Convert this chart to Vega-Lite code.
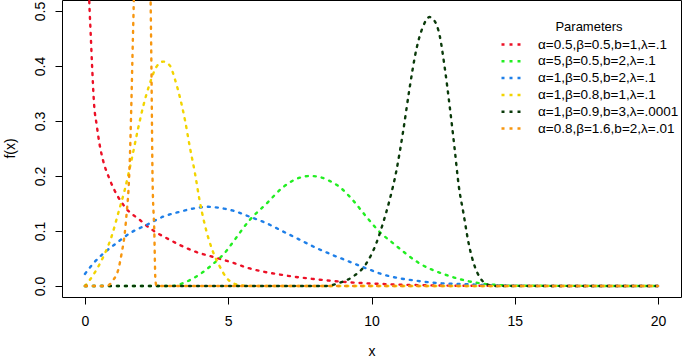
{
  "$schema": "https://vega.github.io/schema/vega-lite/v6.json",
  "width": 619,
  "height": 297,
  "autosize": {"type": "none"},
  "padding": {"left": 62, "top": 0, "right": 2, "bottom": 63},
  "background": "white",
  "config": {
    "view": {"stroke": "black", "strokeWidth": 1},
    "font": "Liberation Sans"
  },
  "data": {
    "values": [
      {"s": "α=0.5,β=0.5,b=1,λ=.1", "x": 0.1, "y": 0.62},
      {"s": "α=0.5,β=0.5,b=1,λ=.1", "x": 0.15, "y": 0.52},
      {"s": "α=0.5,β=0.5,b=1,λ=.1", "x": 0.2, "y": 0.46},
      {"s": "α=0.5,β=0.5,b=1,λ=.1", "x": 0.25, "y": 0.40},
      {"s": "α=0.5,β=0.5,b=1,λ=.1", "x": 0.32, "y": 0.33},
      {"s": "α=0.5,β=0.5,b=1,λ=.1", "x": 0.41, "y": 0.293},
      {"s": "α=0.5,β=0.5,b=1,λ=.1", "x": 0.52, "y": 0.255},
      {"s": "α=0.5,β=0.5,b=1,λ=.1", "x": 0.63, "y": 0.229},
      {"s": "α=0.5,β=0.5,b=1,λ=.1", "x": 0.87, "y": 0.193},
      {"s": "α=0.5,β=0.5,b=1,λ=.1", "x": 1.39, "y": 0.144},
      {"s": "α=0.5,β=0.5,b=1,λ=.1", "x": 1.92, "y": 0.12},
      {"s": "α=0.5,β=0.5,b=1,λ=.1", "x": 2.27, "y": 0.105},
      {"s": "α=0.5,β=0.5,b=1,λ=.1", "x": 2.96, "y": 0.084},
      {"s": "α=0.5,β=0.5,b=1,λ=.1", "x": 3.77, "y": 0.064},
      {"s": "α=0.5,β=0.5,b=1,λ=.1", "x": 4.6, "y": 0.051},
      {"s": "α=0.5,β=0.5,b=1,λ=.1", "x": 5.06, "y": 0.044},
      {"s": "α=0.5,β=0.5,b=1,λ=.1", "x": 5.75, "y": 0.032},
      {"s": "α=0.5,β=0.5,b=1,λ=.1", "x": 6.9, "y": 0.02},
      {"s": "α=0.5,β=0.5,b=1,λ=.1", "x": 8.1, "y": 0.012},
      {"s": "α=0.5,β=0.5,b=1,λ=.1", "x": 9.24, "y": 0.0067},
      {"s": "α=0.5,β=0.5,b=1,λ=.1", "x": 10.4, "y": 0.0036},
      {"s": "α=0.5,β=0.5,b=1,λ=.1", "x": 12.0, "y": 0.0012},
      {"s": "α=0.5,β=0.5,b=1,λ=.1", "x": 14.0, "y": 0.0003},
      {"s": "α=0.5,β=0.5,b=1,λ=.1", "x": 20.0, "y": 0},

      {"s": "α=5,β=0.5,b=2,λ=.1", "x": 0, "y": 0},
      {"s": "α=5,β=0.5,b=2,λ=.1", "x": 3.0, "y": 0},
      {"s": "α=5,β=0.5,b=2,λ=.1", "x": 3.55, "y": 0.008},
      {"s": "α=5,β=0.5,b=2,λ=.1", "x": 4.0, "y": 0.021},
      {"s": "α=5,β=0.5,b=2,λ=.1", "x": 4.47, "y": 0.04},
      {"s": "α=5,β=0.5,b=2,λ=.1", "x": 4.94, "y": 0.064},
      {"s": "α=5,β=0.5,b=2,λ=.1", "x": 5.17, "y": 0.08},
      {"s": "α=5,β=0.5,b=2,λ=.1", "x": 5.75, "y": 0.12},
      {"s": "α=5,β=0.5,b=2,λ=.1", "x": 6.34, "y": 0.15},
      {"s": "α=5,β=0.5,b=2,λ=.1", "x": 6.92, "y": 0.18},
      {"s": "α=5,β=0.5,b=2,λ=.1", "x": 7.5, "y": 0.197},
      {"s": "α=5,β=0.5,b=2,λ=.1", "x": 7.85, "y": 0.2},
      {"s": "α=5,β=0.5,b=2,λ=.1", "x": 8.2, "y": 0.198},
      {"s": "α=5,β=0.5,b=2,λ=.1", "x": 8.5, "y": 0.192},
      {"s": "α=5,β=0.5,b=2,λ=.1", "x": 8.89, "y": 0.18},
      {"s": "α=5,β=0.5,b=2,λ=.1", "x": 9.35, "y": 0.156},
      {"s": "α=5,β=0.5,b=2,λ=.1", "x": 9.82, "y": 0.126},
      {"s": "α=5,β=0.5,b=2,λ=.1", "x": 10.29, "y": 0.098},
      {"s": "α=5,β=0.5,b=2,λ=.1", "x": 10.75, "y": 0.078},
      {"s": "α=5,β=0.5,b=2,λ=.1", "x": 11.22, "y": 0.058},
      {"s": "α=5,β=0.5,b=2,λ=.1", "x": 11.68, "y": 0.041},
      {"s": "α=5,β=0.5,b=2,λ=.1", "x": 12.14, "y": 0.029},
      {"s": "α=5,β=0.5,b=2,λ=.1", "x": 12.61, "y": 0.02},
      {"s": "α=5,β=0.5,b=2,λ=.1", "x": 13.19, "y": 0.011},
      {"s": "α=5,β=0.5,b=2,λ=.1", "x": 13.77, "y": 0.005},
      {"s": "α=5,β=0.5,b=2,λ=.1", "x": 14.35, "y": 0.002},
      {"s": "α=5,β=0.5,b=2,λ=.1", "x": 15.0, "y": 0.0005},
      {"s": "α=5,β=0.5,b=2,λ=.1", "x": 20.0, "y": 0},

      {"s": "α=1,β=0.5,b=2,λ=.1", "x": 0, "y": 0.022},
      {"s": "α=1,β=0.5,b=2,λ=.1", "x": 0.29, "y": 0.041},
      {"s": "α=1,β=0.5,b=2,λ=.1", "x": 0.64, "y": 0.059},
      {"s": "α=1,β=0.5,b=2,λ=.1", "x": 1.1, "y": 0.078},
      {"s": "α=1,β=0.5,b=2,λ=.1", "x": 1.57, "y": 0.096},
      {"s": "α=1,β=0.5,b=2,λ=.1", "x": 2.15, "y": 0.111},
      {"s": "α=1,β=0.5,b=2,λ=.1", "x": 2.73, "y": 0.126},
      {"s": "α=1,β=0.5,b=2,λ=.1", "x": 3.31, "y": 0.135},
      {"s": "α=1,β=0.5,b=2,λ=.1", "x": 3.9, "y": 0.142},
      {"s": "α=1,β=0.5,b=2,λ=.1", "x": 4.3, "y": 0.144},
      {"s": "α=1,β=0.5,b=2,λ=.1", "x": 4.7, "y": 0.142},
      {"s": "α=1,β=0.5,b=2,λ=.1", "x": 5.17, "y": 0.137},
      {"s": "α=1,β=0.5,b=2,λ=.1", "x": 5.75, "y": 0.126},
      {"s": "α=1,β=0.5,b=2,λ=.1", "x": 6.34, "y": 0.114},
      {"s": "α=1,β=0.5,b=2,λ=.1", "x": 6.92, "y": 0.099},
      {"s": "α=1,β=0.5,b=2,λ=.1", "x": 7.5, "y": 0.084},
      {"s": "α=1,β=0.5,b=2,λ=.1", "x": 8.08, "y": 0.069},
      {"s": "α=1,β=0.5,b=2,λ=.1", "x": 8.66, "y": 0.056},
      {"s": "α=1,β=0.5,b=2,λ=.1", "x": 9.24, "y": 0.044},
      {"s": "α=1,β=0.5,b=2,λ=.1", "x": 9.82, "y": 0.032},
      {"s": "α=1,β=0.5,b=2,λ=.1", "x": 10.4, "y": 0.021},
      {"s": "α=1,β=0.5,b=2,λ=.1", "x": 10.98, "y": 0.014},
      {"s": "α=1,β=0.5,b=2,λ=.1", "x": 11.57, "y": 0.0095},
      {"s": "α=1,β=0.5,b=2,λ=.1", "x": 12.14, "y": 0.006},
      {"s": "α=1,β=0.5,b=2,λ=.1", "x": 13.2, "y": 0.0034},
      {"s": "α=1,β=0.5,b=2,λ=.1", "x": 14.5, "y": 0.001},
      {"s": "α=1,β=0.5,b=2,λ=.1", "x": 16.0, "y": 0.0002},
      {"s": "α=1,β=0.5,b=2,λ=.1", "x": 20.0, "y": 0},

      {"s": "α=1,β=0.8,b=1,λ=.1", "x": 0, "y": 0},
      {"s": "α=1,β=0.8,b=1,λ=.1", "x": 0.29, "y": 0.02},
      {"s": "α=1,β=0.8,b=1,λ=.1", "x": 0.64, "y": 0.053},
      {"s": "α=1,β=0.8,b=1,λ=.1", "x": 0.93, "y": 0.09},
      {"s": "α=1,β=0.8,b=1,λ=.1", "x": 1.16, "y": 0.132},
      {"s": "α=1,β=0.8,b=1,λ=.1", "x": 1.39, "y": 0.175},
      {"s": "α=1,β=0.8,b=1,λ=.1", "x": 1.65, "y": 0.235},
      {"s": "α=1,β=0.8,b=1,λ=.1", "x": 1.85, "y": 0.285},
      {"s": "α=1,β=0.8,b=1,λ=.1", "x": 2.05, "y": 0.33},
      {"s": "α=1,β=0.8,b=1,λ=.1", "x": 2.27, "y": 0.369},
      {"s": "α=1,β=0.8,b=1,λ=.1", "x": 2.5, "y": 0.399},
      {"s": "α=1,β=0.8,b=1,λ=.1", "x": 2.73, "y": 0.408},
      {"s": "α=1,β=0.8,b=1,λ=.1", "x": 2.96, "y": 0.401},
      {"s": "α=1,β=0.8,b=1,λ=.1", "x": 3.14, "y": 0.376},
      {"s": "α=1,β=0.8,b=1,λ=.1", "x": 3.31, "y": 0.344},
      {"s": "α=1,β=0.8,b=1,λ=.1", "x": 3.49, "y": 0.302},
      {"s": "α=1,β=0.8,b=1,λ=.1", "x": 3.66, "y": 0.253},
      {"s": "α=1,β=0.8,b=1,λ=.1", "x": 3.84, "y": 0.205},
      {"s": "α=1,β=0.8,b=1,λ=.1", "x": 4.0, "y": 0.156},
      {"s": "α=1,β=0.8,b=1,λ=.1", "x": 4.18, "y": 0.112},
      {"s": "α=1,β=0.8,b=1,λ=.1", "x": 4.47, "y": 0.062},
      {"s": "α=1,β=0.8,b=1,λ=.1", "x": 4.7, "y": 0.036},
      {"s": "α=1,β=0.8,b=1,λ=.1", "x": 4.94, "y": 0.015},
      {"s": "α=1,β=0.8,b=1,λ=.1", "x": 5.17, "y": 0.005},
      {"s": "α=1,β=0.8,b=1,λ=.1", "x": 5.5, "y": 0.001},
      {"s": "α=1,β=0.8,b=1,λ=.1", "x": 6.0, "y": 0},
      {"s": "α=1,β=0.8,b=1,λ=.1", "x": 20.0, "y": 0},

      {"s": "α=1,β=0.9,b=3,λ=.0001", "x": 0, "y": 0},
      {"s": "α=1,β=0.9,b=3,λ=.0001", "x": 8.4, "y": 0},
      {"s": "α=1,β=0.9,b=3,λ=.0001", "x": 8.89, "y": 0.006},
      {"s": "α=1,β=0.9,b=3,λ=.0001", "x": 9.35, "y": 0.017},
      {"s": "α=1,β=0.9,b=3,λ=.0001", "x": 9.82, "y": 0.041},
      {"s": "α=1,β=0.9,b=3,λ=.0001", "x": 10.17, "y": 0.078},
      {"s": "α=1,β=0.9,b=3,λ=.0001", "x": 10.4, "y": 0.114},
      {"s": "α=1,β=0.9,b=3,λ=.0001", "x": 10.63, "y": 0.156},
      {"s": "α=1,β=0.9,b=3,λ=.0001", "x": 10.87, "y": 0.21},
      {"s": "α=1,β=0.9,b=3,λ=.0001", "x": 11.1, "y": 0.28},
      {"s": "α=1,β=0.9,b=3,λ=.0001", "x": 11.33, "y": 0.36},
      {"s": "α=1,β=0.9,b=3,λ=.0001", "x": 11.56, "y": 0.429},
      {"s": "α=1,β=0.9,b=3,λ=.0001", "x": 11.8, "y": 0.472},
      {"s": "α=1,β=0.9,b=3,λ=.0001", "x": 12.02, "y": 0.489},
      {"s": "α=1,β=0.9,b=3,λ=.0001", "x": 12.2, "y": 0.482},
      {"s": "α=1,β=0.9,b=3,λ=.0001", "x": 12.38, "y": 0.455},
      {"s": "α=1,β=0.9,b=3,λ=.0001", "x": 12.55, "y": 0.399},
      {"s": "α=1,β=0.9,b=3,λ=.0001", "x": 12.73, "y": 0.326},
      {"s": "α=1,β=0.9,b=3,λ=.0001", "x": 12.9, "y": 0.25},
      {"s": "α=1,β=0.9,b=3,λ=.0001", "x": 13.05, "y": 0.18},
      {"s": "α=1,β=0.9,b=3,λ=.0001", "x": 13.2, "y": 0.135},
      {"s": "α=1,β=0.9,b=3,λ=.0001", "x": 13.4, "y": 0.075},
      {"s": "α=1,β=0.9,b=3,λ=.0001", "x": 13.6, "y": 0.036},
      {"s": "α=1,β=0.9,b=3,λ=.0001", "x": 13.8, "y": 0.014},
      {"s": "α=1,β=0.9,b=3,λ=.0001", "x": 14.0, "y": 0.004},
      {"s": "α=1,β=0.9,b=3,λ=.0001", "x": 14.3, "y": 0},
      {"s": "α=1,β=0.9,b=3,λ=.0001", "x": 20.0, "y": 0},

      {"s": "α=0.8,β=1.6,b=2,λ=.01", "x": 0, "y": 0},
      {"s": "α=0.8,β=1.6,b=2,λ=.01", "x": 0.75, "y": 0},
      {"s": "α=0.8,β=1.6,b=2,λ=.01", "x": 0.99, "y": 0.011},
      {"s": "α=0.8,β=1.6,b=2,λ=.01", "x": 1.16, "y": 0.029},
      {"s": "α=0.8,β=1.6,b=2,λ=.01", "x": 1.28, "y": 0.059},
      {"s": "α=0.8,β=1.6,b=2,λ=.01", "x": 1.39, "y": 0.096},
      {"s": "α=0.8,β=1.6,b=2,λ=.01", "x": 1.46, "y": 0.135},
      {"s": "α=0.8,β=1.6,b=2,λ=.01", "x": 1.52, "y": 0.175},
      {"s": "α=0.8,β=1.6,b=2,λ=.01", "x": 1.57, "y": 0.235},
      {"s": "α=0.8,β=1.6,b=2,λ=.01", "x": 1.61, "y": 0.31},
      {"s": "α=0.8,β=1.6,b=2,λ=.01", "x": 1.66, "y": 0.42},
      {"s": "α=0.8,β=1.6,b=2,λ=.01", "x": 1.71, "y": 0.53},
      {"s": "α=0.8,β=1.6,b=2,λ=.01", "x": 1.8, "y": 0.8},
      {"s": "α=0.8,β=1.6,b=2,λ=.01", "x": 2.0, "y": 1.2},
      {"s": "α=0.8,β=1.6,b=2,λ=.01", "x": 2.2, "y": 0.8},
      {"s": "α=0.8,β=1.6,b=2,λ=.01", "x": 2.29, "y": 0.53},
      {"s": "α=0.8,β=1.6,b=2,λ=.01", "x": 2.32, "y": 0.40},
      {"s": "α=0.8,β=1.6,b=2,λ=.01", "x": 2.36, "y": 0.195},
      {"s": "α=0.8,β=1.6,b=2,λ=.01", "x": 2.42, "y": 0.1},
      {"s": "α=0.8,β=1.6,b=2,λ=.01", "x": 2.46, "y": 0.011},
      {"s": "α=0.8,β=1.6,b=2,λ=.01", "x": 2.5, "y": 0},
      {"s": "α=0.8,β=1.6,b=2,λ=.01", "x": 20.0, "y": 0}
    ]
  },
  "mark": {
    "type": "line",
    "clip": true,
    "strokeWidth": 2.4,
    "strokeDash": [2, 6],
    "strokeCap": "round",
    "interpolate": "monotone"
  },
  "encoding": {
    "x": {
      "field": "x",
      "type": "quantitative",
      "scale": {"domain": [-0.8, 20.8], "nice": false, "zero": false},
      "axis": {
        "values": [0, 5, 10, 15, 20],
        "grid": false,
        "domain": false,
        "tickColor": "black",
        "tickSize": 7,
        "labelFontSize": 14,
        "labelColor": "black",
        "labelPadding": 10,
        "labelBaseline": "top",
        "title": "x",
        "titleFontSize": 14,
        "titleFontWeight": "normal",
        "titleColor": "black",
        "titleX": 309.5,
        "titleY": 54,
        "titleBaseline": "middle",
        "titleAlign": "center"
      }
    },
    "y": {
      "field": "y",
      "type": "quantitative",
      "scale": {"domain": [-0.02, 0.52], "nice": false, "zero": false},
      "axis": {
        "values": [0, 0.1, 0.2, 0.3, 0.4, 0.5],
        "format": ".1f",
        "grid": false,
        "domain": false,
        "tickColor": "black",
        "tickSize": 7,
        "labelFontSize": 14,
        "labelColor": "black",
        "labelAngle": 270,
        "labelAlign": "center",
        "labelBaseline": "bottom",
        "labelPadding": 8,
        "title": "f(x)",
        "titleFontSize": 14,
        "titleFontWeight": "normal",
        "titleColor": "black",
        "titleAngle": 270,
        "titleX": -52,
        "titleY": 148,
        "titleBaseline": "middle",
        "titleAlign": "center"
      }
    },
    "color": {
      "field": "s",
      "type": "nominal",
      "scale": {
        "domain": ["α=0.5,β=0.5,b=1,λ=.1", "α=5,β=0.5,b=2,λ=.1", "α=1,β=0.5,b=2,λ=.1", "α=1,β=0.8,b=1,λ=.1", "α=1,β=0.9,b=3,λ=.0001", "α=0.8,β=1.6,b=2,λ=.01"],
        "range": ["#ec1026", "#22ee22", "#1e7fe8", "#f2d400", "#0a3a0a", "#f7960f"]
      },
      "legend": {
        "orient": "none",
        "legendX": 438,
        "legendY": 21,
        "padding": 0,
        "title": "Parameters",
        "titleFontSize": 13,
        "titleFontWeight": "normal",
        "titleColor": "black",
        "titleAnchor": "middle",
        "titlePadding": 4,
        "labelFontSize": 13.5,
        "labelColor": "black",
        "labelLimit": 300,
        "labelOffset": 12,
        "symbolType": "stroke",
        "symbolSize": 529,
        "symbolStrokeWidth": 2.5,
        "symbolDash": [3, 5],
        "clipHeight": 13,
        "rowPadding": 2.8
      }
    }
  }
}
